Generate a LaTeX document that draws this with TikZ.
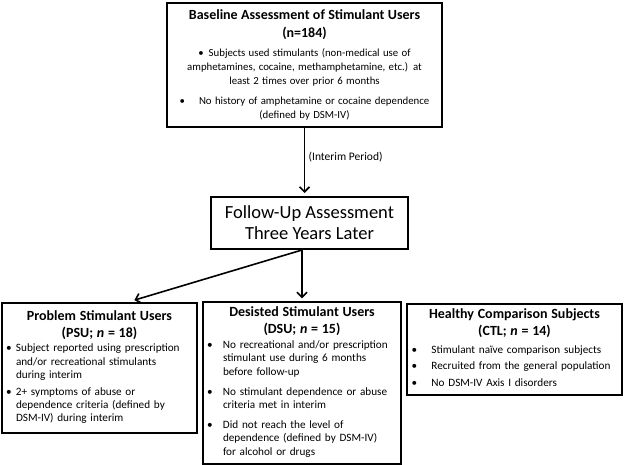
\documentclass[tikz,border=0pt]{standalone}
\usepackage{fontspec}
\setmainfont{Carlito}
\usepackage{array}
\newcolumntype{L}[1]{>{\raggedright\arraybackslash}p{#1}}
\newcommand{\itemgap}[1]{\noalign{\vskip #1}}
\usetikzlibrary{arrows.meta, positioning}
\tikzset{->,>={Straight Barb[length=5pt,width=10pt]},
    shorten >=3pt,
    stagebox/.style={draw, line width=2pt, inner sep=4pt, align=center},
    groupbox/.style={draw, line width=2pt, inner sep=4pt, align=center,
        font=\fontsize{11.2}{13.2}\selectfont},
    textnode/.style={font=\fontsize{11.5}{12}\selectfont}}
\newcommand{\boxtitle}[1]{{\fontsize{14}{17.5}\selectfont\bfseries #1\par}}

\begin{document}
\begin{tikzpicture}[x=1pt,y=-1pt,line width=1.6pt]
\useasboundingbox (0,0) rectangle (624,465);

\node[stagebox, minimum width=275, minimum height=124, text width=265pt] (base) at (304.5,65)
{\boxtitle{Baseline Assessment of Stimulant Users\\(n=184)}\vspace{5pt}
 {\fontsize{10.8}{14.2}\selectfont
 \textbullet\hspace{5pt}Subjects used stimulants (non-medical use of\\
 amphetamines, cocaine, methamphetamine, etc.) at\\
 least 2 times over prior 6 months\par\vspace{5pt}
 \textbullet\hspace{14pt}No history of amphetamine or cocaine dependence\\
 (defined by DSM-IV)\par}};

\node[stagebox, minimum width=197, minimum height=52, font=\fontsize{18.5}{21}\selectfont] (follow) at (309.5,223)
{Follow-Up Assessment\\Three Years Later};

\node[groupbox, minimum width=195, minimum height=130, text width=187pt] (psu) at (99.5,368)
{\boxtitle{Problem Stimulant Users\\(PSU; \textit{n} = 18)}\vspace{2pt}
 \begin{tabular}{@{}L{10pt}@{}L{177pt}@{}}
 \textbullet & Subject reported using prescription\newline and/or recreational stimulants\newline during interim\\ \itemgap{4pt}
 \textbullet & 2+ symptoms of abuse or\newline dependence criteria (defined by\newline DSM-IV) during interim
 \end{tabular}};

\node[groupbox, minimum width=198, minimum height=160, text width=190pt,
    font=\fontsize{11.2}{13.6}\selectfont] (dsu) at (302,383)
{\boxtitle{Desisted Stimulant Users\\(DSU; \textit{n} = 15)}\vspace{2pt}
 \begin{tabular}{@{}L{16pt}@{}L{174pt}@{}}
 \textbullet & No recreational and/or prescription\newline stimulant use during 6 months\newline before follow-up\\ \itemgap{6pt}
 \textbullet & No stimulant dependence or abuse\newline criteria met in interim\\ \itemgap{6pt}
 \textbullet & Did not reach the level of\newline dependence (defined by DSM-IV)\newline for alcohol or drugs
 \end{tabular}};

\node[groupbox, minimum width=215, minimum height=91, text width=207pt] (hc) at (514.5,349.5)
{\boxtitle{Healthy Comparison Subjects\\(CTL; \textit{n} = 14)}\vspace{5pt}
 \begin{tabular}{@{}L{20pt}@{}L{186pt}@{}}
 \textbullet & Stimulant na\"ive comparison subjects\\[3.5pt]
 \textbullet & Recruited from the general population\\[3.5pt]
 \textbullet & No DSM-IV Axis I disorders
 \end{tabular}};

\draw (base.south) -- node[textnode, right, pos=0.43] {(Interim Period)} (base.south |- follow.north);
\draw (dsu.north |- follow.south) -- (dsu.north);
\draw (dsu.north |- follow.south) -- ([xshift=32pt, yshift=1pt]psu.north);
\end{tikzpicture}
\end{document}
